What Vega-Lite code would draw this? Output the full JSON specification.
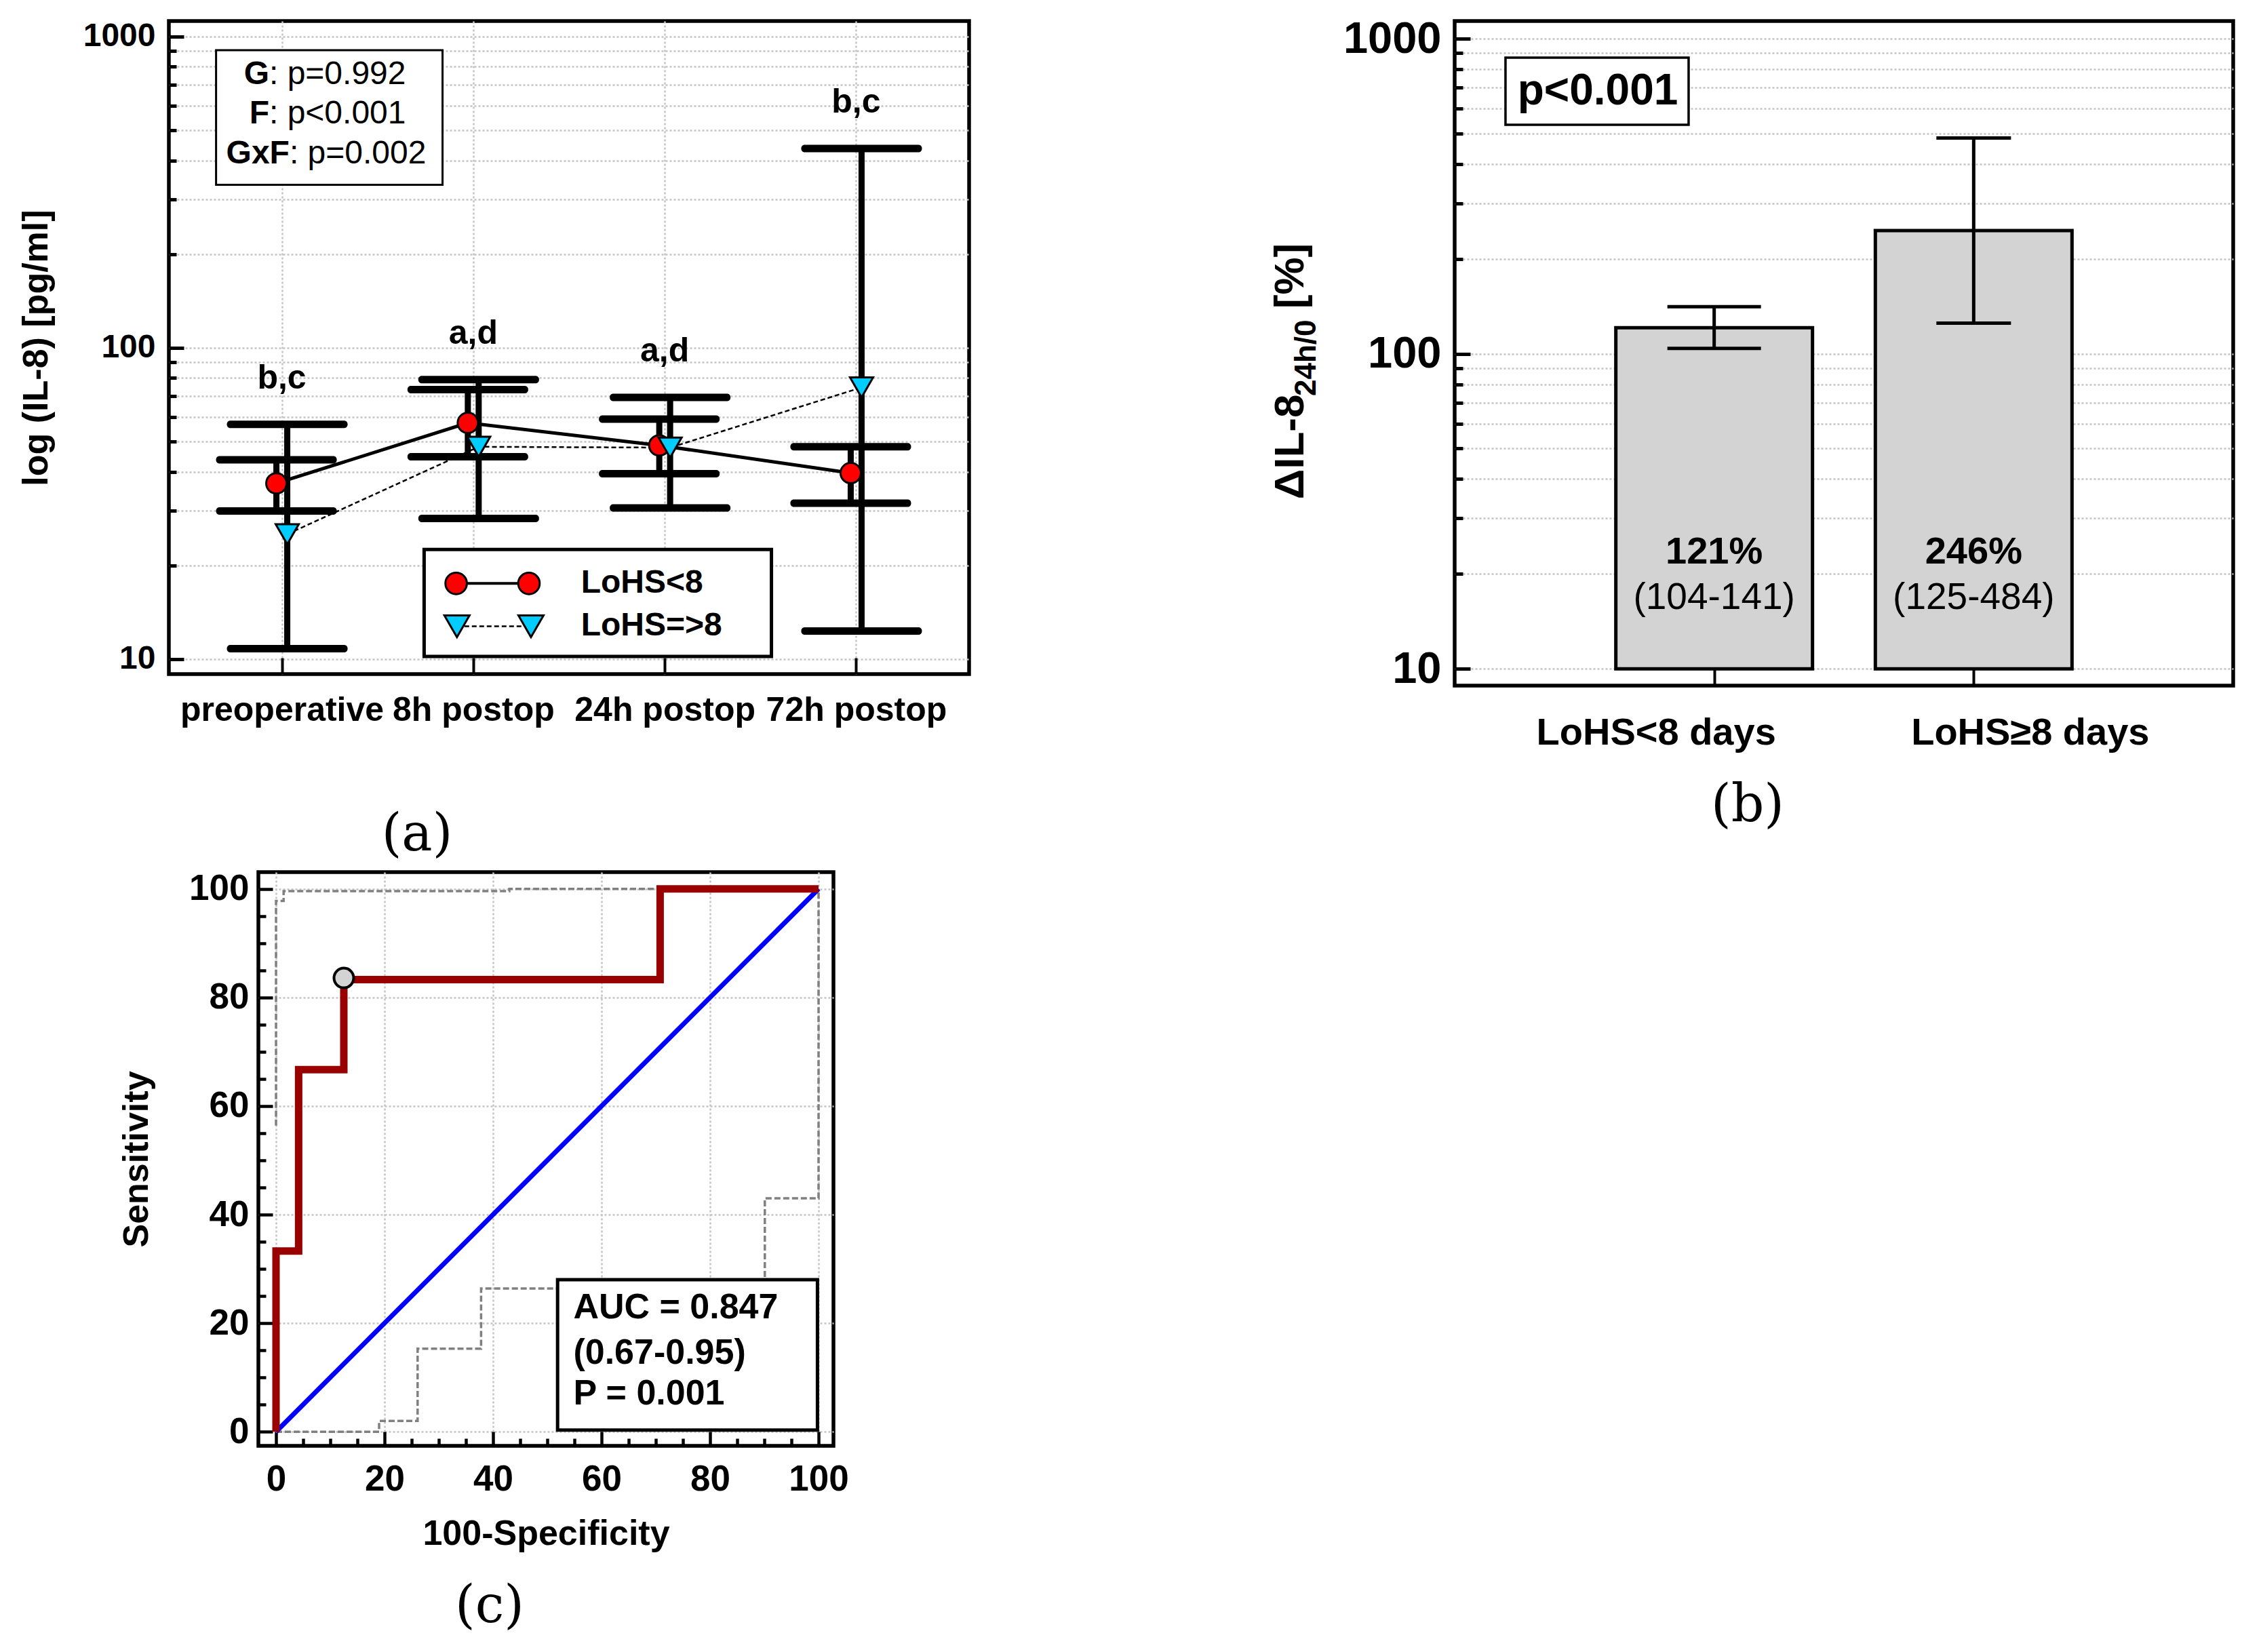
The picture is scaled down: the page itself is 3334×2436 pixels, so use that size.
{
"$schema": "https://vega.github.io/schema/vega-lite/v6.json",
"background": "white",
"padding": {"left": 24, "top": 22, "right": 5, "bottom": 5},
"config": {
  "view": {"stroke": "black", "strokeWidth": 5.5},
  "font": "Liberation Sans",
  "axis": {"domain": false, "labelColor": "black", "titleColor": "black", "labelFont": "Liberation Sans", "titleFont": "Liberation Sans", "labelFontWeight": "bold", "titleFontWeight": "bold", "tickColor": "black", "gridColor": "#c4c4c4", "gridDash": [3, 3], "gridWidth": 2.5, "labelFlush": false, "labelOverlap": false, "labelLimit": 0, "labelAngle": 0},
  "title": {"font": "DejaVu Serif", "fontSize": 76, "fontWeight": "normal", "orient": "bottom", "anchor": "middle", "frame": "group", "color": "black"},
  "text": {"font": "Liberation Sans", "color": "black"}
},
"datasets": {
  "a_stats": [
    {"time": "preoperative", "group": "LoHS<8", "mean": 36.7, "lo": 29.9, "hi": 43.7, "sig": "b,c"},
    {"time": "preoperative", "group": "LoHS=>8", "mean": 25.2, "lo": 10.8, "hi": 56.8, "sig": "b,c"},
    {"time": "8h postop", "group": "LoHS<8", "mean": 57.4, "lo": 44.7, "hi": 73.4, "sig": "a,d"},
    {"time": "8h postop", "group": "LoHS=>8", "mean": 48.1, "lo": 28.3, "hi": 79.1, "sig": "a,d"},
    {"time": "24h postop", "group": "LoHS<8", "mean": 48.6, "lo": 39.4, "hi": 59.0, "sig": "a,d"},
    {"time": "24h postop", "group": "LoHS=>8", "mean": 47.8, "lo": 30.6, "hi": 69.3, "sig": "a,d"},
    {"time": "72h postop", "group": "LoHS<8", "mean": 39.6, "lo": 31.7, "hi": 48.1, "sig": "b,c"},
    {"time": "72h postop", "group": "LoHS=>8", "mean": 74.6, "lo": 12.3, "hi": 437, "sig": "b,c"}
  ],
  "b_stats": [
    {"group": "LoHS<8 days", "median": 121, "lo": 104, "hi": 141, "pct": "121%", "ci": "(104-141)"},
    {"group": "LoHS≥8 days", "median": 246, "lo": 125, "hi": 484, "pct": "246%", "ci": "(125-484)"}
  ],
  "c_roc": [
    {"i": 0, "fpr": 0, "sens": 0}, {"i": 1, "fpr": 0, "sens": 33.3}, {"i": 2, "fpr": 4.17, "sens": 33.3},
    {"i": 3, "fpr": 4.17, "sens": 66.7}, {"i": 4, "fpr": 12.5, "sens": 66.7}, {"i": 5, "fpr": 12.5, "sens": 83.3},
    {"i": 6, "fpr": 70.8, "sens": 83.3}, {"i": 7, "fpr": 70.8, "sens": 100}, {"i": 8, "fpr": 100, "sens": 100}
  ],
  "c_ci": [
    {"bound": "upper", "i": 0, "fpr": 0, "sens": 56.4}, {"bound": "upper", "i": 1, "fpr": 0, "sens": 97.8},
    {"bound": "upper", "i": 2, "fpr": 1.4, "sens": 97.8}, {"bound": "upper", "i": 3, "fpr": 1.4, "sens": 99.6},
    {"bound": "upper", "i": 4, "fpr": 43, "sens": 99.6}, {"bound": "upper", "i": 5, "fpr": 43, "sens": 100},
    {"bound": "upper", "i": 6, "fpr": 100, "sens": 100},
    {"bound": "lower", "i": 0, "fpr": 0, "sens": 0}, {"bound": "lower", "i": 1, "fpr": 19, "sens": 0},
    {"bound": "lower", "i": 2, "fpr": 19, "sens": 2}, {"bound": "lower", "i": 3, "fpr": 26.1, "sens": 2},
    {"bound": "lower", "i": 4, "fpr": 26.1, "sens": 15.3}, {"bound": "lower", "i": 5, "fpr": 37.8, "sens": 15.3},
    {"bound": "lower", "i": 6, "fpr": 37.8, "sens": 26.4}, {"bound": "lower", "i": 7, "fpr": 90.1, "sens": 26.4},
    {"bound": "lower", "i": 8, "fpr": 90.1, "sens": 43}, {"bound": "lower", "i": 9, "fpr": 100, "sens": 43},
    {"bound": "lower", "i": 10, "fpr": 100, "sens": 100}
  ],
  "c_diag": [{"fpr": 0, "sens": 0}, {"fpr": 100, "sens": 100}],
  "c_cut": [{"fpr": 12.5, "sens": 83.6}]
},
"columns": 2,
"align": "none",
"spacing": {"row": 10, "column": 437},
"concat": [
      {
        "width": 1180, "height": 963,
        "title": {"text": "(a)", "dx": -224, "offset": 122},
        "resolve": {"scale": {"x": "independent"}},
        "layer": [
          {
            "data": {"name": "a_stats"},
            "layer": [
              {
                "mark": {"type": "rule", "color": "black", "strokeWidth": 9},
                "encoding": {
                  "x": {"field": "time", "type": "ordinal", "scale": {"type": "point", "padding": 0.59, "domain": ["preoperative", "8h postop", "24h postop", "72h postop"]},
                        "axis": {"title": null, "labelFontSize": 50, "labelPadding": 52, "tickSize": -24, "tickWidth": 4, "grid": true}},
                  "xOffset": {"field": "group", "type": "nominal", "scale": {"type": "point", "domain": ["LoHS<8", "LoHS=>8"], "range": [-8, 8], "padding": 0}},
                  "y": {"field": "lo", "type": "quantitative", "scale": {"type": "log", "domain": [8.95, 1122], "nice": false},
                        "axis": {"title": "log (IL-8) [pg/ml]", "titleFontSize": 52, "titlePadding": 42,
                                 "values": [10,20,30,40,50,60,70,80,90,100,200,300,400,500,600,700,800,900,1000],
                                 "labelExpr": "datum.value === 10 || datum.value === 100 || datum.value === 1000 ? format(datum.value, 'd') : ''",
                                 "labelFontSize": 48, "labelPadding": 42,
                                 "tickSize": {"condition": {"test": "datum.value === 10 || datum.value === 100 || datum.value === 1000", "value": -22}, "value": -11},
                                 "tickWidth": 5, "grid": true}},
                  "y2": {"field": "hi"}
                }
              },
              {
                "mark": {"type": "tick", "color": "black", "size": 178, "thickness": 11, "cornerRadius": 5, "opacity": 1},
                "encoding": {
                  "x": {"field": "time", "type": "ordinal", "scale": {"type": "point", "padding": 0.59, "domain": ["preoperative", "8h postop", "24h postop", "72h postop"]}},
                  "xOffset": {"field": "group", "type": "nominal", "scale": {"type": "point", "domain": ["LoHS<8", "LoHS=>8"], "range": [-8, 8], "padding": 0}},
                  "y": {"field": "lo", "type": "quantitative", "scale": {"type": "log", "domain": [8.95, 1122], "nice": false}}
                }
              },
              {
                "mark": {"type": "tick", "color": "black", "size": 178, "thickness": 11, "cornerRadius": 5, "opacity": 1},
                "encoding": {
                  "x": {"field": "time", "type": "ordinal", "scale": {"type": "point", "padding": 0.59, "domain": ["preoperative", "8h postop", "24h postop", "72h postop"]}},
                  "xOffset": {"field": "group", "type": "nominal", "scale": {"type": "point", "domain": ["LoHS<8", "LoHS=>8"], "range": [-8, 8], "padding": 0}},
                  "y": {"field": "hi", "type": "quantitative", "scale": {"type": "log", "domain": [8.95, 1122], "nice": false}}
                }
              },
              {
                "transform": [{"filter": "datum.group === 'LoHS<8'"}],
                "mark": {"type": "line", "color": "black", "strokeWidth": 5},
                "encoding": {
                  "x": {"field": "time", "type": "ordinal", "scale": {"type": "point", "padding": 0.59, "domain": ["preoperative", "8h postop", "24h postop", "72h postop"]}},
                  "xOffset": {"field": "group", "type": "nominal", "scale": {"type": "point", "domain": ["LoHS<8", "LoHS=>8"], "range": [-8, 8], "padding": 0}},
                  "y": {"field": "mean", "type": "quantitative", "scale": {"type": "log", "domain": [8.95, 1122], "nice": false}}
                }
              },
              {
                "transform": [{"filter": "datum.group === 'LoHS=>8'"}],
                "mark": {"type": "line", "color": "black", "strokeWidth": 2.5, "strokeDash": [7, 4]},
                "encoding": {
                  "x": {"field": "time", "type": "ordinal", "scale": {"type": "point", "padding": 0.59, "domain": ["preoperative", "8h postop", "24h postop", "72h postop"]}},
                  "xOffset": {"field": "group", "type": "nominal", "scale": {"type": "point", "domain": ["LoHS<8", "LoHS=>8"], "range": [-8, 8], "padding": 0}},
                  "y": {"field": "mean", "type": "quantitative", "scale": {"type": "log", "domain": [8.95, 1122], "nice": false}}
                }
              },
              {
                "transform": [{"filter": "datum.group === 'LoHS<8'"}],
                "mark": {"type": "point", "shape": "circle", "filled": true, "fill": "#ff0000", "stroke": "black", "strokeWidth": 3, "size": 900, "opacity": 1},
                "encoding": {
                  "x": {"field": "time", "type": "ordinal", "scale": {"type": "point", "padding": 0.59, "domain": ["preoperative", "8h postop", "24h postop", "72h postop"]}},
                  "xOffset": {"field": "group", "type": "nominal", "scale": {"type": "point", "domain": ["LoHS<8", "LoHS=>8"], "range": [-8, 8], "padding": 0}},
                  "y": {"field": "mean", "type": "quantitative", "scale": {"type": "log", "domain": [8.95, 1122], "nice": false}}
                }
              },
              {
                "transform": [{"filter": "datum.group === 'LoHS=>8'"}],
                "mark": {"type": "point", "shape": "triangle-down", "filled": true, "fill": "#00ccff", "stroke": "black", "strokeWidth": 3, "size": 1156, "opacity": 1},
                "encoding": {
                  "x": {"field": "time", "type": "ordinal", "scale": {"type": "point", "padding": 0.59, "domain": ["preoperative", "8h postop", "24h postop", "72h postop"]}},
                  "xOffset": {"field": "group", "type": "nominal", "scale": {"type": "point", "domain": ["LoHS<8", "LoHS=>8"], "range": [-8, 8], "padding": 0}},
                  "y": {"field": "mean", "type": "quantitative", "scale": {"type": "log", "domain": [8.95, 1122], "nice": false}}
                }
              },
              {
                "transform": [{"aggregate": [{"op": "max", "field": "hi", "as": "top"}], "groupby": ["time", "sig"]}],
                "mark": {"type": "text", "fontSize": 50, "fontWeight": "bold", "dy": -68, "baseline": "middle"},
                "encoding": {
                  "x": {"field": "time", "type": "ordinal", "scale": {"type": "point", "padding": 0.59, "domain": ["preoperative", "8h postop", "24h postop", "72h postop"]}},
                  "y": {"field": "top", "type": "quantitative", "scale": {"type": "log", "domain": [8.95, 1122], "nice": false}},
                  "text": {"field": "sig"}
                }
              }
            ]
          },
          {
            "layer": [
              {
                "data": {"values": [{}]},
                "mark": {"type": "rect", "fill": "white", "stroke": "black", "strokeWidth": 3},
                "encoding": {
                  "x": {"datum": 0.059, "type": "quantitative", "scale": {"domain": [0, 1], "nice": false, "zero": false}, "axis": null},
                  "x2": {"datum": 0.342},
                  "y": {"datum": 904, "type": "quantitative", "scale": {"type": "log", "domain": [8.95, 1122], "nice": false}},
                  "y2": {"datum": 334}
                }
              },
              {
                "data": {"values": [{"term": "G", "rest": ": p=0.992"}]},
                "encoding": {
                  "x": {"datum": 0.1254, "type": "quantitative", "scale": {"domain": [0, 1], "nice": false, "zero": false}, "axis": null},
                  "y": {"datum": 755, "type": "quantitative", "scale": {"type": "log", "domain": [8.95, 1122], "nice": false}}
                },
                "layer": [
                  {"mark": {"type": "text", "align": "right", "baseline": "middle", "fontWeight": "bold", "fontSize": 48}, "encoding": {"text": {"field": "term"}}},
                  {"mark": {"type": "text", "align": "left", "baseline": "middle", "fontWeight": "normal", "fontSize": 48}, "encoding": {"text": {"field": "rest"}}}
                ]
              },
              {
                "data": {"values": [{"term": "F", "rest": ": p<0.001"}]},
                "encoding": {
                  "x": {"datum": 0.1254, "type": "quantitative", "scale": {"domain": [0, 1], "nice": false, "zero": false}, "axis": null},
                  "y": {"datum": 563, "type": "quantitative", "scale": {"type": "log", "domain": [8.95, 1122], "nice": false}}
                },
                "layer": [
                  {"mark": {"type": "text", "align": "right", "baseline": "middle", "fontWeight": "bold", "fontSize": 48}, "encoding": {"text": {"field": "term"}}},
                  {"mark": {"type": "text", "align": "left", "baseline": "middle", "fontWeight": "normal", "fontSize": 48}, "encoding": {"text": {"field": "rest"}}}
                ]
              },
              {
                "data": {"values": [{"term": "GxF", "rest": ": p=0.002"}]},
                "encoding": {
                  "x": {"datum": 0.1508, "type": "quantitative", "scale": {"domain": [0, 1], "nice": false, "zero": false}, "axis": null},
                  "y": {"datum": 419, "type": "quantitative", "scale": {"type": "log", "domain": [8.95, 1122], "nice": false}}
                },
                "layer": [
                  {"mark": {"type": "text", "align": "right", "baseline": "middle", "fontWeight": "bold", "fontSize": 48}, "encoding": {"text": {"field": "term"}}},
                  {"mark": {"type": "text", "align": "left", "baseline": "middle", "fontWeight": "normal", "fontSize": 48}, "encoding": {"text": {"field": "rest"}}}
                ]
              },
              {
                "data": {"values": [{}]},
                "mark": {"type": "rect", "fill": "white", "stroke": "black", "strokeWidth": 5},
                "encoding": {
                  "x": {"datum": 0.319, "type": "quantitative", "scale": {"domain": [0, 1], "nice": false, "zero": false}, "axis": null},
                  "x2": {"datum": 0.753},
                  "y": {"datum": 22.5, "type": "quantitative", "scale": {"type": "log", "domain": [8.95, 1122], "nice": false}},
                  "y2": {"datum": 10.2}
                }
              },
              {
                "data": {"values": [{}]},
                "mark": {"type": "rule", "color": "black", "strokeWidth": 4},
                "encoding": {
                  "x": {"datum": 0.359, "type": "quantitative", "scale": {"domain": [0, 1], "nice": false, "zero": false}, "axis": null},
                  "x2": {"datum": 0.45},
                  "y": {"datum": 17.5, "type": "quantitative", "scale": {"type": "log", "domain": [8.95, 1122], "nice": false}}
                }
              },
              {
                "data": {"values": [{}]},
                "mark": {"type": "point", "shape": "circle", "filled": true, "fill": "#ff0000", "stroke": "black", "strokeWidth": 3, "size": 1000, "opacity": 1},
                "encoding": {
                  "x": {"datum": 0.359, "type": "quantitative", "scale": {"domain": [0, 1], "nice": false, "zero": false}, "axis": null},
                  "y": {"datum": 17.5, "type": "quantitative", "scale": {"type": "log", "domain": [8.95, 1122], "nice": false}}
                }
              },
              {
                "data": {"values": [{}]},
                "mark": {"type": "point", "shape": "circle", "filled": true, "fill": "#ff0000", "stroke": "black", "strokeWidth": 3, "size": 1000, "opacity": 1},
                "encoding": {
                  "x": {"datum": 0.45, "type": "quantitative", "scale": {"domain": [0, 1], "nice": false, "zero": false}, "axis": null},
                  "y": {"datum": 17.5, "type": "quantitative", "scale": {"type": "log", "domain": [8.95, 1122], "nice": false}}
                }
              },
              {
                "data": {"values": [{}]},
                "mark": {"type": "rule", "color": "black", "strokeWidth": 2.5, "strokeDash": [7, 4]},
                "encoding": {
                  "x": {"datum": 0.36, "type": "quantitative", "scale": {"domain": [0, 1], "nice": false, "zero": false}, "axis": null},
                  "x2": {"datum": 0.4525},
                  "y": {"datum": 12.75, "type": "quantitative", "scale": {"type": "log", "domain": [8.95, 1122], "nice": false}}
                }
              },
              {
                "data": {"values": [{}]},
                "mark": {"type": "point", "shape": "triangle-down", "filled": true, "fill": "#00ccff", "stroke": "black", "strokeWidth": 3, "size": 1370, "opacity": 1},
                "encoding": {
                  "x": {"datum": 0.36, "type": "quantitative", "scale": {"domain": [0, 1], "nice": false, "zero": false}, "axis": null},
                  "y": {"datum": 12.75, "type": "quantitative", "scale": {"type": "log", "domain": [8.95, 1122], "nice": false}}
                }
              },
              {
                "data": {"values": [{}]},
                "mark": {"type": "point", "shape": "triangle-down", "filled": true, "fill": "#00ccff", "stroke": "black", "strokeWidth": 3, "size": 1370, "opacity": 1},
                "encoding": {
                  "x": {"datum": 0.4525, "type": "quantitative", "scale": {"domain": [0, 1], "nice": false, "zero": false}, "axis": null},
                  "y": {"datum": 12.75, "type": "quantitative", "scale": {"type": "log", "domain": [8.95, 1122], "nice": false}}
                }
              },
              {
                "data": {"values": [{"label": "LoHS<8"}]},
                "mark": {"type": "text", "align": "left", "baseline": "middle", "fontWeight": "bold", "fontSize": 48},
                "encoding": {
                  "x": {"datum": 0.515, "type": "quantitative", "scale": {"domain": [0, 1], "nice": false, "zero": false}, "axis": null},
                  "y": {"datum": 17.5, "type": "quantitative", "scale": {"type": "log", "domain": [8.95, 1122], "nice": false}},
                  "text": {"field": "label"}
                }
              },
              {
                "data": {"values": [{"label": "LoHS=>8"}]},
                "mark": {"type": "text", "align": "left", "baseline": "middle", "fontWeight": "bold", "fontSize": 48},
                "encoding": {
                  "x": {"datum": 0.515, "type": "quantitative", "scale": {"domain": [0, 1], "nice": false, "zero": false}, "axis": null},
                  "y": {"datum": 12.75, "type": "quantitative", "scale": {"type": "log", "domain": [8.95, 1122], "nice": false}},
                  "text": {"field": "label"}
                }
              }
            ]
          }
        ]
      },
  {
    "width": 1148, "height": 980,
    "title": {"text": "(b)", "dx": -142, "offset": 43},
    "resolve": {"scale": {"x": "independent"}},
    "layer": [
      {
        "data": {"name": "b_stats"},
        "layer": [
          {
            "mark": {"type": "bar", "fill": "#d3d3d3", "stroke": "black", "strokeWidth": 5, "width": 290},
            "encoding": {
              "x": {"field": "group", "type": "nominal", "sort": ["LoHS<8 days", "LoHS≥8 days"], "scale": {"type": "point", "padding": 1.077},
                    "axis": {"title": null, "labelFontSize": 56, "labelPadding": 67, "tickSize": -25, "tickWidth": 4, "grid": false,
                             "labelOffset": {"condition": {"test": "datum.value === 'LoHS<8 days'", "value": -86}, "value": 83}}},
              "y": {"field": "median", "type": "quantitative", "scale": {"type": "log", "domain": [8.84, 1138], "nice": false},
                    "axis": {"title": null, "values": [10,20,30,40,50,60,70,80,90,100,200,300,400,500,600,700,800,900,1000],
                             "labelExpr": "datum.value === 10 || datum.value === 100 || datum.value === 1000 ? format(datum.value, 'd') : ''",
                             "labelFontSize": 65, "labelPadding": 43,
                             "tickSize": {"condition": {"test": "datum.value === 10 || datum.value === 100 || datum.value === 1000", "value": -23}, "value": -12},
                             "tickWidth": 5, "grid": true}},
              "y2": {"datum": 10}
            }
          },
          {
            "mark": {"type": "rule", "color": "black", "strokeWidth": 5},
            "encoding": {
              "x": {"field": "group", "type": "nominal", "sort": ["LoHS<8 days", "LoHS≥8 days"], "scale": {"type": "point", "padding": 1.077}},
              "y": {"field": "lo", "type": "quantitative", "scale": {"type": "log", "domain": [8.84, 1138], "nice": false}},
              "y2": {"field": "hi"}
            }
          },
          {
            "mark": {"type": "tick", "color": "black", "thickness": 5, "opacity": 1},
            "encoding": {
              "x": {"field": "group", "type": "nominal", "sort": ["LoHS<8 days", "LoHS≥8 days"], "scale": {"type": "point", "padding": 1.077}},
              "y": {"field": "lo", "type": "quantitative", "scale": {"type": "log", "domain": [8.84, 1138], "nice": false}},
              "size": {"field": "group", "type": "nominal", "scale": {"domain": ["LoHS<8 days", "LoHS≥8 days"], "range": [138, 110]}, "legend": null}
            }
          },
          {
            "mark": {"type": "tick", "color": "black", "thickness": 5, "opacity": 1},
            "encoding": {
              "x": {"field": "group", "type": "nominal", "sort": ["LoHS<8 days", "LoHS≥8 days"], "scale": {"type": "point", "padding": 1.077}},
              "y": {"field": "hi", "type": "quantitative", "scale": {"type": "log", "domain": [8.84, 1138], "nice": false}},
              "size": {"field": "group", "type": "nominal", "scale": {"domain": ["LoHS<8 days", "LoHS≥8 days"], "range": [138, 110]}, "legend": null}
            }
          },
          {
            "mark": {"type": "text", "fontSize": 56, "fontWeight": "bold", "baseline": "middle"},
            "encoding": {
              "x": {"field": "group", "type": "nominal", "sort": ["LoHS<8 days", "LoHS≥8 days"], "scale": {"type": "point", "padding": 1.077}},
              "y": {"datum": 23.5, "type": "quantitative", "scale": {"type": "log", "domain": [8.84, 1138], "nice": false}},
              "text": {"field": "pct"}
            }
          },
          {
            "mark": {"type": "text", "fontSize": 55, "fontWeight": "normal", "baseline": "middle"},
            "encoding": {
              "x": {"field": "group", "type": "nominal", "sort": ["LoHS<8 days", "LoHS≥8 days"], "scale": {"type": "point", "padding": 1.077}},
              "y": {"datum": 16.8, "type": "quantitative", "scale": {"type": "log", "domain": [8.84, 1138], "nice": false}},
              "text": {"field": "ci"}
            }
          }
        ]
      },
      {
        "layer": [
          {
            "data": {"values": [{}]},
            "mark": {"type": "rect", "fill": "white", "stroke": "black", "strokeWidth": 3.5},
            "encoding": {
              "x": {"datum": 0.0653, "type": "quantitative", "scale": {"domain": [0, 1], "nice": false, "zero": false}, "axis": null},
              "x2": {"datum": 0.3005},
              "y": {"datum": 871, "type": "quantitative", "scale": {"type": "log", "domain": [8.84, 1138], "nice": false}},
              "y2": {"datum": 533}
            }
          },
          {
            "data": {"values": [{"t": "p<0.001"}]},
            "mark": {"type": "text", "fontSize": 64, "fontWeight": "bold", "baseline": "middle", "align": "center"},
            "encoding": {
              "x": {"datum": 0.1838, "type": "quantitative", "scale": {"domain": [0, 1], "nice": false, "zero": false}, "axis": null},
              "y": {"datum": 679, "type": "quantitative", "scale": {"type": "log", "domain": [8.84, 1138], "nice": false}},
              "text": {"field": "t"}
            }
          },
          {
            "data": {"values": [{"t": "ΔIL-8"}]},
            "mark": {"type": "text", "fontSize": 62, "fontWeight": "bold", "baseline": "alphabetic", "align": "left", "angle": 270},
            "encoding": {
              "x": {"datum": -0.194, "type": "quantitative", "scale": {"domain": [0, 1], "nice": false, "zero": false}, "axis": null},
              "y": {"datum": 34.5, "type": "quantitative", "scale": {"type": "log", "domain": [8.84, 1138], "nice": false}},
              "text": {"field": "t"}
            }
          },
          {
            "data": {"values": [{"t": "24h/0"}]},
            "mark": {"type": "text", "fontSize": 44, "fontWeight": "bold", "baseline": "alphabetic", "align": "left", "angle": 270},
            "encoding": {
              "x": {"datum": -0.1786, "type": "quantitative", "scale": {"domain": [0, 1], "nice": false, "zero": false}, "axis": null},
              "y": {"datum": 73.4, "type": "quantitative", "scale": {"type": "log", "domain": [8.84, 1138], "nice": false}},
              "text": {"field": "t"}
            }
          },
          {
            "data": {"values": [{"t": "[%]"}]},
            "mark": {"type": "text", "fontSize": 62, "fontWeight": "bold", "baseline": "alphabetic", "align": "left", "angle": 270},
            "encoding": {
              "x": {"datum": -0.194, "type": "quantitative", "scale": {"domain": [0, 1], "nice": false, "zero": false}, "axis": null},
              "y": {"datum": 139, "type": "quantitative", "scale": {"type": "log", "domain": [8.84, 1138], "nice": false}},
              "text": {"field": "t"}
            }
          }
        ]
      }
    ]
  },
      {
        "spacing": 20,
        "bounds": "flush",
        "hconcat": [
          {"width": 112, "height": 10, "view": {"stroke": null}, "data": {"values": []}, "mark": "point"},
          {
            "width": 848, "height": 846,
            "title": {"text": "(c)", "dx": -83, "offset": 45},
            "layer": [
              {
                "data": {"name": "c_ci"},
                "mark": {"type": "line", "color": "#808080", "strokeWidth": 3.5, "strokeDash": [9, 4]},
                "encoding": {
                  "x": {"field": "fpr", "type": "quantitative", "scale": {"domain": [-3.25, 102.75], "nice": false, "zero": false},
                        "axis": {"title": "100-Specificity", "titleFontSize": 52, "titlePadding": 18,
                                 "values": [0,5,10,15,20,25,30,35,40,45,50,55,60,65,70,75,80,85,90,95,100],
                                 "labelExpr": "datum.value % 20 === 0 ? datum.label : ''",
                                 "labelFontSize": 53, "labelPadding": 44,
                                 "tickSize": {"condition": {"test": "datum.value % 20 === 0", "value": -21}, "value": -11},
                                 "tickWidth": 4.5, "grid": true,
                                 "gridOpacity": {"condition": {"test": "datum.value % 20 === 0", "value": 1}, "value": 0}}},
                  "y": {"field": "sens", "type": "quantitative", "scale": {"domain": [-2.6, 103.1], "nice": false, "zero": false},
                        "axis": {"title": "Sensitivity", "titleFontSize": 52, "titlePadding": 50,
                                 "values": [0,5,10,15,20,25,30,35,40,45,50,55,60,65,70,75,80,85,90,95,100],
                                 "labelExpr": "datum.value % 20 === 0 ? datum.label : ''",
                                 "labelFontSize": 53, "labelPadding": 35,
                                 "tickSize": {"condition": {"test": "datum.value % 20 === 0", "value": -21}, "value": -11},
                                 "tickWidth": 4.5, "grid": true,
                                 "gridOpacity": {"condition": {"test": "datum.value % 20 === 0", "value": 1}, "value": 0}}},
                  "detail": {"field": "bound"},
                  "order": {"field": "i"}
                }
              },
              {
                "data": {"name": "c_diag"},
                "mark": {"type": "line", "color": "#0000ff", "strokeWidth": 7},
                "encoding": {
                  "x": {"field": "fpr", "type": "quantitative", "scale": {"domain": [-3.25, 102.75], "nice": false, "zero": false}},
                  "y": {"field": "sens", "type": "quantitative", "scale": {"domain": [-2.6, 103.1], "nice": false, "zero": false}}
                }
              },
              {
                "data": {"name": "c_roc"},
                "mark": {"type": "line", "color": "#990000", "strokeWidth": 11, "strokeJoin": "miter", "strokeCap": "butt"},
                "encoding": {
                  "x": {"field": "fpr", "type": "quantitative", "scale": {"domain": [-3.25, 102.75], "nice": false, "zero": false}},
                  "y": {"field": "sens", "type": "quantitative", "scale": {"domain": [-2.6, 103.1], "nice": false, "zero": false}},
                  "order": {"field": "i"}
                }
              },
              {
                "data": {"name": "c_cut"},
                "mark": {"type": "point", "shape": "circle", "filled": true, "fill": "#d3d3d3", "stroke": "black", "strokeWidth": 4, "size": 841, "opacity": 1},
                "encoding": {
                  "x": {"field": "fpr", "type": "quantitative", "scale": {"domain": [-3.25, 102.75], "nice": false, "zero": false}},
                  "y": {"field": "sens", "type": "quantitative", "scale": {"domain": [-2.6, 103.1], "nice": false, "zero": false}}
                }
              },
              {
                "data": {"values": [{}]},
                "mark": {"type": "rect", "fill": "white", "stroke": "black", "strokeWidth": 5},
                "encoding": {
                  "x": {"datum": 51.9, "type": "quantitative", "scale": {"domain": [-3.25, 102.75], "nice": false, "zero": false}},
                  "x2": {"datum": 99.8},
                  "y": {"datum": 28, "type": "quantitative", "scale": {"domain": [-2.6, 103.1], "nice": false, "zero": false}},
                  "y2": {"datum": 0.3}
                }
              },
              {
                "data": {"values": [{"t": "AUC = 0.847"}]},
                "mark": {"type": "text", "align": "left", "baseline": "middle", "fontWeight": "bold", "fontSize": 52},
                "encoding": {
                  "x": {"datum": 54.8, "type": "quantitative", "scale": {"domain": [-3.25, 102.75], "nice": false, "zero": false}},
                  "y": {"datum": 22.9, "type": "quantitative", "scale": {"domain": [-2.6, 103.1], "nice": false, "zero": false}},
                  "text": {"field": "t"}
                }
              },
              {
                "data": {"values": [{"t": "(0.67-0.95)"}]},
                "mark": {"type": "text", "align": "left", "baseline": "middle", "fontWeight": "bold", "fontSize": 52},
                "encoding": {
                  "x": {"datum": 54.8, "type": "quantitative", "scale": {"domain": [-3.25, 102.75], "nice": false, "zero": false}},
                  "y": {"datum": 14.5, "type": "quantitative", "scale": {"domain": [-2.6, 103.1], "nice": false, "zero": false}},
                  "text": {"field": "t"}
                }
              },
              {
                "data": {"values": [{"t": "P = 0.001"}]},
                "mark": {"type": "text", "align": "left", "baseline": "middle", "fontWeight": "bold", "fontSize": 52},
                "encoding": {
                  "x": {"datum": 54.8, "type": "quantitative", "scale": {"domain": [-3.25, 102.75], "nice": false, "zero": false}},
                  "y": {"datum": 7.0, "type": "quantitative", "scale": {"domain": [-2.6, 103.1], "nice": false, "zero": false}},
                  "text": {"field": "t"}
                }
              }
            ]
          }
        ]
      }
]
}
